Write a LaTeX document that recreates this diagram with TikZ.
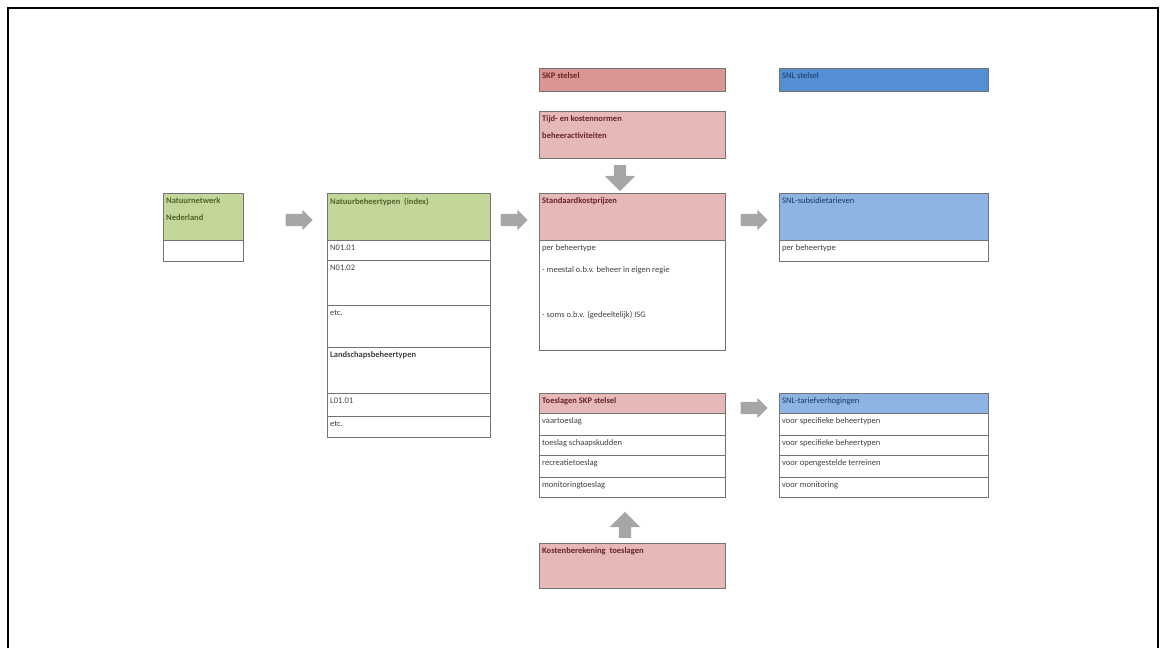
\documentclass[tikz,border=0pt]{standalone}
\usepackage{fontspec}
\setmainfont{Carlito}
\usetikzlibrary{shapes.arrows}

\definecolor{groen}{RGB}{196,215,155}
\definecolor{groentekst}{RGB}{79,98,40}
\definecolor{roze}{RGB}{230,184,183}
\definecolor{rood}{RGB}{218,150,148}
\definecolor{roodtekst}{RGB}{99,37,35}
\definecolor{blauw}{RGB}{85,142,213}
\definecolor{lichtblauw}{RGB}{141,180,226}
\definecolor{blauwtekst}{RGB}{23,55,94}
\definecolor{pijlgrijs}{RGB}{166,166,166}

\tikzset{
  cel/.style args={#1x#2}{draw=black!55, line width=0.8pt, anchor=north west,
    minimum width=#1pt, minimum height=#2pt, inner sep=0pt, outer sep=0pt},
  tekst/.style={anchor=north west, inner xsep=3pt, inner ysep=4.5pt, align=left, text=black!75,
    font=\fontsize{8.5}{17}\selectfont},
  kop/.style={tekst, font=\fontsize{8.5}{17}\selectfont\bfseries},
  blokpijl/.style={single arrow, fill=pijlgrijs, draw=none, inner sep=6pt,
    minimum width=20pt, minimum height=27pt, single arrow head extend=4pt},
}

\begin{document}
\begin{tikzpicture}[x=1pt, y=-1pt]
        \useasboundingbox (0,0) rectangle (1166,648);
        % frame
        \draw[line width=1.5pt] (8,648) -- (8,8) -- (1158,8) -- (1158,648);

        % Natuurnetwerk
        \node[cel=80x47, fill=groen,
              label={[kop, text=groentekst]north west:Natuurnetwerk\\Nederland}] (nn_kop) at (163,193) {};
        \node[cel=80x21] (nn_rij) at (163,240) {};

        % Natuurbeheertypen
        \node[cel=163x47, fill=groen,
              label={[kop, text=groentekst]north west:Natuurbeheertypen~~(index)}] (nb_kop) at (327,193) {};
        \node[cel=163x20, label={[tekst]north west:N01.01}] (nb_1) at (327,240) {};
        \node[cel=163x45, label={[tekst]north west:N01.02}] (nb_2) at (327,260) {};
        \node[cel=163x42, label={[tekst]north west:etc.}] (nb_3) at (327,305) {};
        \node[cel=163x46, label={[kop]north west:Landschapsbeheertypen}] (nb_4) at (327,347) {};
        \node[cel=163x23, label={[tekst]north west:L01.01}] (nb_5) at (327,393) {};
        \node[cel=163x21, label={[tekst]north west:etc.}] (nb_6) at (327,416) {};

        % SKP stelsel
        \node[cel=186x23, fill=rood,
              label={[kop, text=roodtekst]north west:SKP stelsel}] (skp) at (539,68) {};
        \node[cel=186x47, fill=roze,
              label={[kop, text=roodtekst]north west:Tijd- en kostennormen\\beheeractiviteiten}] (tijd) at (539,111) {};
        \node[cel=186x47, fill=roze,
              label={[kop, text=roodtekst]north west:Standaardkostprijzen}] (sk_kop) at (539,193) {};
        \node[cel=186x110,
              label={[tekst, font=\fontsize{8.5}{12}\selectfont]north west:per beheertype\\[10pt]- meestal o.b.v. beheer in eigen regie\\[33pt]- soms o.b.v. (gedeeltelijk) ISG}] (sk_rij) at (539,240) {};

        \node[cel=186x20, fill=roze,
              label={[kop, text=roodtekst]north west:Toeslagen SKP stelsel}] (ts_kop) at (539,393) {};
        \node[cel=186x22, label={[tekst]north west:vaartoeslag}] (ts_1) at (539,413) {};
        \node[cel=186x20, label={[tekst]north west:toeslag schaapskudden}] (ts_2) at (539,435) {};
        \node[cel=186x22, label={[tekst]north west:recreatietoeslag}] (ts_3) at (539,455) {};
        \node[cel=186x20, label={[tekst]north west:monitoringtoeslag}] (ts_4) at (539,477) {};
        \node[cel=186x45, fill=roze,
              label={[kop, text=roodtekst]north west:Kostenberekening~~toeslagen}] (kb) at (539,543) {};

        % SNL stelsel
        \node[cel=209x23, fill=blauw,
              label={[tekst, text=blauwtekst]north west:SNL stelsel}] (snl) at (779,68) {};
        \node[cel=209x47, fill=lichtblauw,
              label={[tekst, text=blauwtekst]north west:SNL-subsidietarieven}] (st_kop) at (779,193) {};
        \node[cel=209x21, label={[tekst]north west:per beheertype}] (st_rij) at (779,240) {};

        \node[cel=209x20, fill=lichtblauw,
              label={[tekst, text=blauwtekst]north west:SNL-tariefverhogingen}] (tv_kop) at (779,393) {};
        \node[cel=209x22, label={[tekst]north west:voor specifieke beheertypen}] (tv_1) at (779,413) {};
        \node[cel=209x20, label={[tekst]north west:voor specifieke beheertypen}] (tv_2) at (779,435) {};
        \node[cel=209x22, label={[tekst]north west:voor opengestelde terreinen}] (tv_3) at (779,455) {};
        \node[cel=209x20, label={[tekst]north west:voor monitoring}] (tv_4) at (779,477) {};

        % block arrows
        \node[blokpijl] (p1) at (296,220) {};
        \node[blokpijl] (p2) at (511,220) {};
        \node[blokpijl] (p3) at (751,220) {};
        \node[blokpijl] (p4) at (751,408) {};
        \node[blokpijl, shape border rotate=270, minimum width=30pt, minimum height=26pt,
              single arrow head extend=9pt] (p5) at (620,175) {};
        \node[blokpijl, shape border rotate=90, minimum width=30pt, minimum height=26pt,
              single arrow head extend=9pt] (p6) at (625,528) {};
\end{tikzpicture}
\end{document}
